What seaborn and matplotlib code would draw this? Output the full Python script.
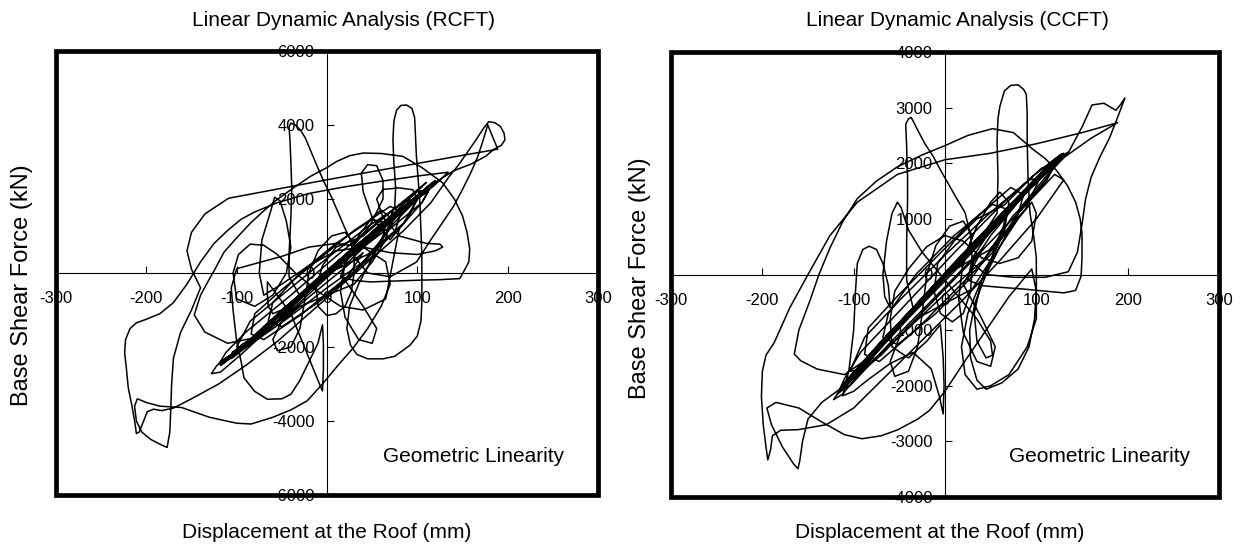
import matplotlib
matplotlib.use("Agg")
import matplotlib.pyplot as plt
from matplotlib.patches import Rectangle
import seaborn as sns
import pandas as pd

# ---------------------------------------------------------------------------
# Roof displacement (mm) and base shear (kN) histories, linear dynamic analysis
# ---------------------------------------------------------------------------
rcft_disp = [
    # early cycles
    0, 12, 25, 32, 28, 12, -10, -28, -34, -25, -5, 20, 45, 58, 60, 50, 25, -10, -40, -58, -64, -55, -30,
    # tall loop left of the origin
    -42, -42, -40, -39, -40, -41, -42, -40, -35, -29, -24, -18, -12, -4, 5, 13, 20, 26, 30, 30,
    27, 20, 10, 0, -10, -12, -5, 10,
    40, 70, 95, 110, 104, 80, 45, 5, -35, -75, -105, -118, -112, -90, -60,
    # tall narrow loop and the loop beneath it
    -25, 15, 45, 62, 70, 75, 76, 74, 73, 74, 77, 82, 88, 94, 97, 98, 99, 101, 103, 104, 105, 105,
    105, 104, 100, 92, 75, 62, 45, 33, 26, 22, 25, 35, 50,
    # elastic branch
    75, 100, 115, 108, 75, 30, -20, -70, -105, -122, -128, -118, -95, -55, -10, 35, 80, 112, 120,
    105, 65, 20, -30, -75, -105, -118, -108, -80,
    # wide loop
    -110, -135, -147, -140, -132, -123, -114, -100, -84, -70, -55, -36, -18, 0, 11, 25, 40, 60, 84,
    105, 128, 141, 150, 155, 158, 157, 153, 147, 125, 99, 70, 48, 30, 15, 20, 40, 70,
    # branch tip, return and negative peak lobe
    100, 118, 134, 100, 60, 20, -20, -55, -80, -95, -110, -125, -140, -155, -170, -185, -200, -211,
    -218, -223, -224, -222, -220, -216, -213, -211, -208, -203, -199, -192, -183, -170, -150, -120,
    -90, -55, -20, 15, 50, 85, 115, 135,
    # positive peak lobe
    145, 155, 165, 173, 179, 186, 192, 196, 197, 193, 185, 176, 160, 140, 120, 95, 65, 30, 45, 70,
    99, 115, 128, 140, 150, 159, 167, 173, 178, 183, 189, 150, 100, 50, 0, -50, -109, -135, -150,
    -155, -150, -140,
    # lower lobes
    -150, -162, -170, -172, -173, -174, -177, -183, -195, -205, -211, -213, -210, -200, -185, -161,
    -130, -100, -84, -60, -40, -22, -5, 12, 29, 45, 60,
    # inner loops
    70, 65, 40, 10, -20, -50, -80, -100, -106, -104, -100, -95, -92, -80, -66, -50, -40, -30, -20,
    -10, -5, -4, -4, -5, -10, -20, -30, -40, -55, -66, -66, -65, -60, -50, -35, -15, 5, 25, 48, 62,
    62, 55, 45, 38, 40, 50, 70,
    90, 100, 95, 80, 62, 55, 62, 80, 110, 125, 128, 120, 100, 70, 40, 10, -20, -50, -70, -75, -72,
    -62, -58, -52, -45, -40, -45, -60, -80, -100, -104, -98, -85, -70, -55, -35, -10, 15, 40, 65,
    # free vibration
    80, 105, 112, 95, 55, 10, -35, -80, -110, -120, -105, -65, -20, 25, 70, 100, 110, 90, 50, 5,
    -40, -85, -112, -100, -60, -15, 30, 75, 100, 85, 45, 0, -45, -85, -105, -90, -50, -5, 40, 80,
    95, 75, 35, -10, -55, -90, -95, -70, -30, 10, 50, 75, 60, 20, -20, -55, -70, -50, -15, 20, 45,
    30, 0, -30, -40, -20, 0,
    # open cycles along the elastic branch
    45, 85, 100, 88, 45, 0, -45, -85, -100, -86, -45, 0, 40,
    75, 82, 70, 30, -10, -50, -80, -84, -70, -30, 10, 50,
    62, 65, 50, 10, -30, -60, -65, -50, -10, 30,
    70, 105, 113, 100, 60, 10, -40, -90, -112, -118, -105, -60, -10, 40,
    20, 40, 55, 50, 35, 20, 15, 20, 35, 50, 60, 70, 65, 50, 30, 0, -30, -50, -60, -55, -40, -30,
    -25, -20, -10, 5, 20, 30, 20, 0,
]
rcft_shear = [
    0, 300, 560, 700, 650, 300, -180, -580, -700, -520, -60, 480, 980, 1250, 1300, 1080, 520, -250,
    -850, -1220, -1350, -1150, -620,
    -100, 500, 1500, 2300, 3000, 3600, 3950, 4050, 4000, 3850, 3650, 3300, 2950, 2500, 2050, 1600,
    1200, 900, 500, 0, -500, -900, -1100, -1150, -900, -400, 200, 700,
    1000, 1650, 2150, 2450, 2300, 1750, 1000, 150, -750, -1650, -2250, -2500, -2400, -1900, -1300,
    -600, 300, 900, 1300, 1500, 1800, 2300, 3000, 3600, 4100, 4400, 4530, 4540, 4450, 4200, 3700,
    3150, 2500, 1800, 1100, 470, -200, -800, -1300, -1700, -1950, -2250, -2320, -2320, -2200,
    -1950, -1500, -900, -300, 400,
    1500, 2100, 2400, 2250, 1550, 600, -450, -1500, -2200, -2500, -2720, -2680, -2200, -1300, -250,
    700, 1650, 2350, 2500, 2200, 1350, 350, -700, -1650, -2200, -2400, -2250, -1750,
    -1900, -1600, -1134, -600, -241, 150, 563, 950, 1366, 1680, 1991, 2320, 2617, 2850, 3018, 3170,
    3242, 3230, 3152, 2850, 2438, 2000, 1545, 1100, 652, 300, 116, -152, -180, -196, -220, -241,
    -200, -100, 200, 700, 1250,
    2000, 2350, 2724, 2620, 2480, 2330, 2150, 1900, 1650, 1455, 1150, 800, 300, -300, -800, -1100,
    -1250, -1347, -1500, -1800, -2154, -2600, -3102, -3577, -4000, -4336, -4300, -4000, -3750,
    -3680, -3719, -3650, -3400, -3000, -2500, -1850, -1100, -350, 400, 1150, 1900, 2600,
    2900, 3250, 3600, 3900, 4090, 4060, 3960, 3780, 3600, 3450, 3350, 3160, 2950, 2760, 2450, 1900,
    1250, 450, 0, -100, 295, 900, 1366, 1800, 2259, 2700, 3152, 3600, 4000, 3700, 3346, 3180, 2960,
    2740, 2520, 2290, 2020, 1600, 1100, 600, 100, -400,
    -1000, -1600, -2300, -3000, -3700, -4300, -4715, -4650, -4500, -4300, -4000, -3600, -3400,
    -3500, -3600, -3635, -3900, -4060, -4081, -3900, -3700, -3456, -3000, -2500, -2027, -1500, -900,
    -300, 300, 700, 800, 700, 450, 250, 116, -400, -1000, -1848, -2400, -2831, -3200, -3412, -3400,
    -3278, -2900, -2400, -1900, -1400, -1900, -2600, -3188, -2900, -2300, -1700, -1100, -600, -240,
    -600, -900, -1100, -1000, -700, -300, 100, 600, 1300, 2000, 2500, 2900, 2929, 2700, 2200, 1500,
    900,
    1500, 2000, 2250, 2300, 2259, 2000, 1500, 1000, 800, 780, 700, 600, 500, 550, 700, 600, 200,
    -300, -600, 0, 900, 1700, 2050, 1950, 1400, 700, 0, -600, -900, -700, 0, 500, 780, 750, 500, 0,
    -500, -900, -1000, -700,
    1200, 1900, 2200, 1950, 1050, 100, -900, -1800, -2350, -2450, -2250, -1350, -350, 600, 1500,
    2100, 2250, 1900, 1000, 50, -900, -1850, -2300, -2150, -1250, -250, 650, 1550, 2050, 1800, 900,
    -50, -1000, -1800, -2150, -1900, -1000, -50, 900, 1700, 1950, 1600, 700, -250, -1200, -1900,
    -1950, -1550, -600, 250, 1100, 1550, 1350, 400, -450, -1200, -1450, -1100, -300, 450, 900, 650,
    0, -650, -800, -450, 0,
    500, 1350, 2000, 1950, 1250, 400, -500, -1300, -2000, -1950, -1250, -400, 300,
    1100, 1650, 1800, 1150, 350, -450, -1100, -1650, -1800, -1150, -350, 450,
    1000, 1350, 1450, 800, 0, -800, -1300, -1450, -800, 0,
    1200, 1900, 2250, 2200, 1450, 450, -600, -1600, -2150, -2400, -2300, -1450, -450, 550,
    -200, -900, -1500, -1900, -1800, -1200, -500, 300, 1000, 1500, 1700, 1500, 900, 300, -300, -600,
    -900, -1300, -1800, -2100, -2000, -1500, -800, 0, 600, 1000, 1100, 800, 200, 0,
]

ccft_disp = [
    # early cycles
    0, 15, 28, 33, 25, 5, -18, -32, -36, -28, -5, 25, 50, 60, 58, 45, 15, -25, -55, -65, -58, -35,
    # tall loop left of the origin
    -42, -42, -41, -41, -42, -43, -40, -37, -30, -22, -13, -5, 4, 13, 22, 28, 30, 28, 20, 8, -5,
    -12, -8, 10, 35,
    65, 95, 118, 128, 115, 80, 40, 0, -40, -80, -108, -118, -110, -85, -55,
    # tall narrow loop and the loop beneath it
    -20, 20, 45, 57, 58, 57, 58, 60, 65, 72, 80, 86, 89, 90, 90, 91, 93, 97, 100, 100, 98, 92, 80,
    62, 45, 35, 28, 27, 33, 45, 60,
    # elastic branch
    85, 110, 130, 135, 120, 80, 30, -20, -70, -105, -118, -122, -112, -85, -40, 10, 60, 100, 125,
    130, 110, 65, 15, -35, -80, -108, -115, -100, -75,
    # wide loop
    -110, -140, -158, -165, -160, -148, -138, -126, -112, -96, -75, -52, -25, 0, 25, 52, 75, 96,
    110, 122, 134, 143, 148, 150, 150, 149, 143, 130, 110, 85, 60, 40, 25, 30, 50, 75,
    # positive peak lobe, return and negative peak lobe
    100, 120, 135, 150, 161, 174, 187, 192, 197, 193, 189, 180, 170, 160, 154, 150, 145, 135, 110,
    75, 45, 30, 50, 90, 130, 160, 189, 150, 100, 50, 0, -52, -96, -126, -150, -170, -187, -196,
    -200, -201, -199, -196, -194, -191, -189, -180, -161, -130,
    # lower lobes
    -100, -60, -20, 20, 60, 100, 130, 120, 80, 30, -20, -70, -110, -135, -150, -156, -159, -161,
    -166, -178, -190, -195, -185, -160, -135, -110, -91, -70, -52, -30, -17, 0, 20, 45, 70, 95,
    # inner loops
    100, 100, 90, 70, 50, 35, 22, 18, 25, 40, 60, 80, 95, 100, 95, 80, 60, 40, 20, 0, -20, -40, -55,
    -60, -58, -40, -20, -5, -2, -1, -2, -6, -15, -35, -60, -85, -100, -112, -105, -100, -98, -96,
    -90, -83, -75, -68, -62, -60, -66, -68, -64, -58, -52, -48, -40, -25, -5, 15, 35, 50, 52, 45,
    35, 32, 40, 60, 80, 100, 110,
    # free vibration
    125, 105, 60, 10, -40, -85, -112, -100, -55, -5, 45, 90, 120, 105, 60, 10, -40, -85, -108, -95,
    -50, 0, 45, 85, 110, 95, 55, 10, -35, -75, -100, -85, -45, 0, 40, 75, 85, 60, 20, -20, -55, -70,
    -55, -20, 15, 40, 25, 0, -25, -15, 0,
    # open cycles along the elastic branch
    48, 88, 104, 92, 48, 0, -48, -88, -104, -90, -48, 0, 42,
    78, 86, 72, 32, -10, -52, -84, -88, -72, -32, 10, 52,
    64, 68, 52, 10, -32, -62, -68, -52, -10, 32,
    74, 110, 120, 106, 62, 10, -42, -92, -110, -116, -104, -62, -10, 42,
    20, 40, 55, 50, 35, 20, 15, 20, 35, 50, 60, 70, 65, 50, 30, 0, -30, -50, -60, -55, -40, -30,
    -25, -20, -10, 5, 20, 30, 20, 0,
]
ccft_shear = [
    0, 250, 480, 560, 430, 80, -300, -560, -620, -470, -70, 430, 870, 1030, 980, 760, 240, -430,
    -950, -1120, -1000, -600,
    -100, 600, 1300, 1746, 2300, 2700, 2800, 2825, 2600, 2350, 2127, 1880, 1619, 1360, 1111, 700,
    200, -300, -700, -850, -700, -300, 200, 600, 1000,
    1250, 1750, 2050, 2170, 2000, 1400, 700, 0, -700, -1400, -1950, -2150, -2050, -1550, -1000,
    -350, 350, 800, 1100, 1746, 2400, 2800, 3016, 3300, 3400, 3410, 3330, 3238, 2900, 2380, 1700,
    1111, 700, 300, -300, -800, -1300, -1700, -1950, -2063, -1900, -1500, -1000, -500, 0, 500,
    1250, 1750, 2100, 2200, 2050, 1400, 550, -350, -1200, -1850, -2150, -2250, -2150, -1600, -750,
    150, 1000, 1700, 2100, 2180, 1900, 1150, 300, -600, -1400, -1900, -2050, -1850, -1400,
    -1800, -1700, -1550, -1429, -1000, -476, 0, 476, 950, 1365, 1680, 1937, 2150, 2317, 2500, 2622,
    2550, 2254, 2080, 1873, 1600, 1302, 1000, 730, 300, -32, -286, -330, -300, -260, -230, -200,
    -100, 300, 800, 1300,
    1650, 2000, 2190, 2650, 3048, 3079, 2952, 3050, 3175, 3000, 2825, 2450, 2127, 1750, 1365, 900,
    400, 50, -50, -50, 0, 200, 700, 1500, 2100, 2450, 2730, 2550, 2350, 2180, 2063, 1800, 1300, 700,
    0, -600, -1225, -1450, -1746, -2200, -2698, -3100, -3333, -3150, -2900, -2800, -2790, -2700,
    -2400, -1750, -1100, -450, 250, 1000, 1700, 1800, 1100, 250, -600, -1450, -2000, -2300, -2600,
    -3000, -3350, -3492, -3400, -3100, -2700, -2400, -2300, -2400, -2650, -2880, -2952, -2900,
    -2794, -2600, -2444, -2100, -1600, -1000, -400, 100,
    -300, -794, -1300, -1800, -2000, -2063, -1800, -1300, -700, -100, 500, 1000, 1300, 1100, 600,
    300, 200, 300, 600, 700, 500, 100, -300, -800, -1300, -1500, -1200, -900, -1500, -2000, -2508,
    -2200, -1700, -1400, -1600, -1900, -2100, -2180, -1700, -1000, -300, 200, 450, 508, 450, 200,
    -200, -600, -400, 0, 600, 1100, 1302, 1200, 800, 400, 0, -400, -800, -1200, -1450, -1500, -1200,
    -700, -100, 600, 1100, 1500, 1700,
    2100, 1800, 1000, 150, -750, -1500, -2000, -1850, -1000, -150, 700, 1500, 2000, 1750, 950, 100,
    -750, -1500, -1950, -1750, -900, -50, 750, 1450, 1850, 1600, 850, 50, -700, -1400, -1800, -1550,
    -800, -50, 650, 1250, 1400, 1000, 300, -400, -1000, -1250, -1000, -350, 250, 650, 400, 0, -450,
    -250, 0,
    435, 1175, 1740, 1700, 1090, 350, -435, -1130, -1740, -1700, -1090, -350, 260,
    960, 1435, 1565, 1000, 305, -390, -960, -1435, -1565, -1000, -305, 390,
    870, 1175, 1260, 700, 0, -700, -1130, -1260, -700, 0,
    1045, 1650, 1960, 1915, 1260, 390, -520, -1390, -1870, -2090, -2000, -1260, -390, 480,
    -175, -785, -1300, -1650, -1565, -1045, -435, 260, 870, 1300, 1480, 1300, 785, 260, -260, -520,
    -785, -1130, -1565, -1830, -1740, -1300, -700, 0, 520, 870, 960, 700, 175, 0,
]

disp_ticks = [-300, -200, -100, 0, 100, 200, 300]
rcft_shear_ticks = [-6000, -4000, -2000, 0, 2000, 4000, 6000]
ccft_shear_ticks = [-4000, -3000, -2000, -1000, 0, 1000, 2000, 3000, 4000]

titles = ["Linear Dynamic Analysis (RCFT)", "Linear Dynamic Analysis (CCFT)"]
x_label = "Displacement at the Roof (mm)"
y_label = "Base Shear Force (kN)"
note = "Geometric Linearity"

# ---------------------------------------------------------------------------
sns.set_theme(style="white")
plt.rcParams["font.family"] = ["Liberation Sans", "DejaVu Sans"]
plt.rcParams["axes.unicode_minus"] = False
plt.rcParams["text.color"] = "black"

W, H = 1241, 556
fig = plt.figure(figsize=(W / 100, H / 100), dpi=100)
fig.patch.set_facecolor("white")


def frac_box(left, top, right, bottom):
    return [left / W, 1 - bottom / H, (right - left) / W, (bottom - top) / H]


panels = [
    dict(box=frac_box(56, 51, 598, 495), disp=rcft_disp, shear=rcft_shear,
         yticks=rcft_shear_ticks, title=titles[0],
         title_xy=(343, 21), xlab_xy=(327, 533), ylab_xy=(22, 285), note_xy=(474, 457)),
    dict(box=frac_box(671, 52, 1219, 497), disp=ccft_disp, shear=ccft_shear,
         yticks=ccft_shear_ticks, title=titles[1],
         title_xy=(957, 21), xlab_xy=(940, 533), ylab_xy=(640, 278), note_xy=(1100, 457)),
]

for p in panels:
    ax = fig.add_axes(p["box"])
    df = pd.DataFrame({"disp": p["disp"], "shear": p["shear"]})
    sns.lineplot(data=df, x="disp", y="shear", sort=False, estimator=None,
                 color="black", linewidth=1.1, ax=ax)
    for ln in ax.lines:
        ln.set_solid_joinstyle("round")

    ax.set_xlim(-300, 300)
    ax.set_ylim(p["yticks"][0], p["yticks"][-1])
    ax.set_xticks(disp_ticks)
    ax.set_xticklabels([str(v) for v in disp_ticks])
    ax.set_yticks(p["yticks"])
    ax.set_yticklabels([str(v) for v in p["yticks"]])
    ax.set_xlabel("")
    ax.set_ylabel("")

    # axes cross at the origin
    for side in ("left", "bottom"):
        ax.spines[side].set_position(("data", 0))
        ax.spines[side].set_linewidth(0.8)
        ax.spines[side].set_color("black")
    ax.spines["top"].set_visible(False)
    ax.spines["right"].set_visible(False)
    ax.tick_params(axis="both", direction="in", length=5, width=0.8, colors="black",
                   labelcolor="black", labelsize=12)
    ax.tick_params(axis="x", pad=13)
    ax.tick_params(axis="y", pad=9)
    ax.tick_params(left=True, bottom=True)
    ax.set_facecolor("white")

    # heavy border around the plot area, drawn above the tick labels
    frame = Rectangle((0, 0), 1, 1, transform=ax.transAxes, fill=False,
                      edgecolor="black", linewidth=3.4, zorder=20, clip_on=False)
    fig.add_artist(frame)

    tx, ty = p["title_xy"]
    fig.text(tx / W, 1 - ty / H, p["title"], ha="center", va="center", fontsize=15)
    lx, ly = p["xlab_xy"]
    fig.text(lx / W, 1 - ly / H, x_label, ha="center", va="center", fontsize=15)
    yx, yy = p["ylab_xy"]
    fig.text(yx / W, 1 - yy / H, y_label, ha="center", va="center", rotation=90,
             fontsize=17)
    nx, ny = p["note_xy"]
    fig.text(nx / W, 1 - ny / H, note, ha="center", va="center", fontsize=15)

fig.savefig("out.png", dpi=100, facecolor="white")
